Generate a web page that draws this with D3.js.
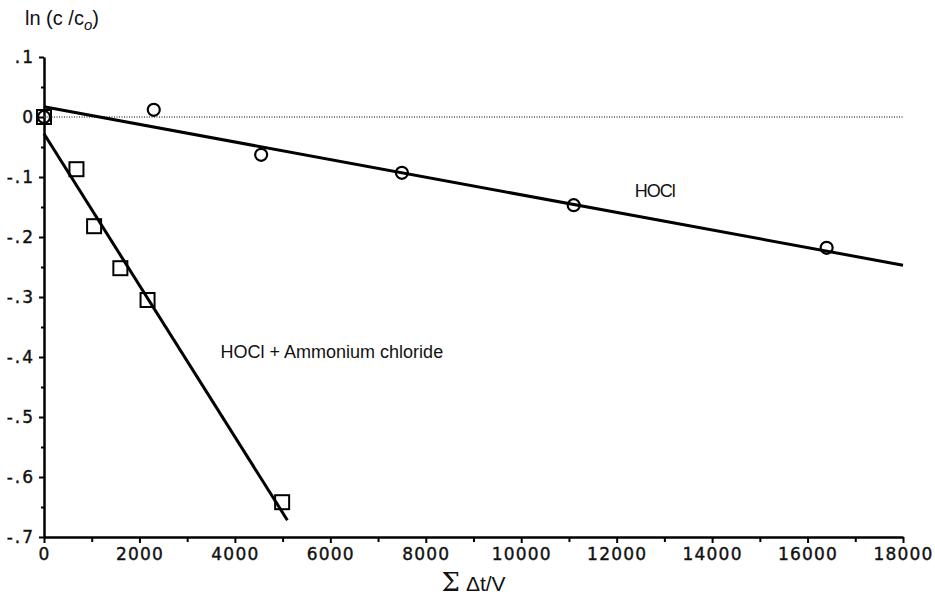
<!DOCTYPE html>
<html>
<head>
<meta charset="utf-8">
<script src="https://cdn.jsdelivr.net/npm/d3@7"></script>
<style>
  body { margin: 0; background: #fff; }
  text { font-family: "Liberation Sans", Arial, sans-serif; fill: #111; }
</style>
</head>
<body>
<div id="chart"></div>
<script>

// HOCl alone (circles)
var hoclX = [0, 2300, 4550, 7500, 11100, 16400];
var hoclY = [0, 0.012, -0.063, -0.093, -0.147, -0.218];
// HOCl + ammonium chloride (squares)
var ammX = [0, 680, 1050, 1600, 2170, 4990];
var ammY = [0, -0.087, -0.182, -0.252, -0.305, -0.642];
// fitted lines, end points
var hoclFit = [[0, 0.017], [18000, -0.247]];
var ammFit = [[0, -0.028], [5100, -0.672]];

var xTicks = [0, 2000, 4000, 6000, 8000, 10000, 12000, 14000, 16000, 18000];
var xMinor = [1000, 3000, 5000, 7000, 9000, 11000, 13000, 15000, 17000];
var yTicks = [0.1, 0, -0.1, -0.2, -0.3, -0.4, -0.5, -0.6, -0.7];
var yMinor = [0.05, -0.05, -0.15, -0.25, -0.35, -0.45, -0.55, -0.65];

var margin = {top: 57, right: 32, bottom: 59, left: 44},
    width = 935 - margin.left - margin.right,
    height = 596 - margin.top - margin.bottom;

var svg = d3.select("#chart")
  .append("svg")
    .attr("width", 935)
    .attr("height", 596)
  .append("g")
    .attr("transform", "translate(" + margin.left + "," + margin.top + ")");

var x = d3.scaleLinear()
  .domain([0, 18000])
  .range([0, width]);

var y = d3.scaleLinear()
  .domain([-0.7, 0.1])
  .range([height, 0]);

function yFmt(v) {
  if (Math.abs(v) < 1e-9) return "0";
  return (v < 0 ? "-" : "") + "." + Math.round(Math.abs(v) * 10);
}

// minor ticks first
svg.append("g")
  .attr("transform", "translate(0," + height + ")")
  .call(d3.axisBottom(x).tickValues(xMinor).tickSize(5).tickFormat(""))
  .call(function (g) { g.select(".domain").remove(); })
  .selectAll("line").attr("stroke-width", 2);

svg.append("g")
  .call(d3.axisLeft(y).tickValues(yMinor).tickSize(3).tickFormat(""))
  .call(function (g) { g.select(".domain").remove(); })
  .selectAll("line").attr("stroke-width", 2);

// X axis
var xAxis = svg.append("g")
  .attr("transform", "translate(0," + height + ")")
  .call(d3.axisBottom(x).tickValues(xTicks).tickSize(6).tickSizeOuter(0).tickPadding(5)
    .tickFormat(d3.format("d")));
xAxis.select(".domain").attr("stroke-width", 2.5);
xAxis.selectAll("line").attr("stroke-width", 2);
xAxis.selectAll("text")
  .style("font-family", "'DejaVu Sans', sans-serif")
  .style("font-size", "17px")
  .style("letter-spacing", "1.2px")
  .style("stroke", "#111")
  .style("stroke-width", "0.4px");

// Y axis
var yAxis = svg.append("g")
  .call(d3.axisLeft(y).tickValues(yTicks).tickSize(5).tickSizeOuter(0).tickPadding(4).tickFormat(yFmt));
yAxis.select(".domain").attr("stroke-width", 2.5);
yAxis.selectAll("line").attr("stroke-width", 2);
yAxis.selectAll("text")
  .style("font-family", "'DejaVu Sans', sans-serif")
  .style("font-size", "17px")
  .style("letter-spacing", "2px")
  .style("stroke", "#111")
  .style("stroke-width", "0.4px");

// dotted zero line
svg.append("line")
  .attr("x1", x(0)).attr("x2", x(18000))
  .attr("y1", y(0)).attr("y2", y(0))
  .attr("stroke", "#555")
  .attr("stroke-width", 1.5)
  .attr("stroke-dasharray", "1,1.5");

var line = d3.line()
  .x(function (d) { return x(d[0]); })
  .y(function (d) { return y(d[1]); });

svg.append("path")
  .datum(hoclFit)
  .attr("d", line)
  .attr("fill", "none")
  .attr("stroke", "#000")
  .attr("stroke-width", 3);

svg.append("path")
  .datum(ammFit)
  .attr("d", line)
  .attr("fill", "none")
  .attr("stroke", "#000")
  .attr("stroke-width", 3);

// circles
svg.append("g")
  .selectAll("circle")
  .data(hoclX)
  .enter()
  .append("circle")
    .attr("cx", function (d) { return x(d); })
    .attr("cy", function (d, i) { return y(hoclY[i]); })
    .attr("r", 6)
    .attr("fill", "none")
    .attr("stroke", "#000")
    .attr("stroke-width", 2.2);

// squares
var s = 14;
svg.append("g")
  .selectAll("rect")
  .data(ammX)
  .enter()
  .append("rect")
    .attr("x", function (d) { return x(d) - s / 2; })
    .attr("y", function (d, i) { return y(ammY[i]) - s / 2; })
    .attr("width", s)
    .attr("height", s)
    .attr("fill", "none")
    .attr("stroke", "#000")
    .attr("stroke-width", 2);

// series labels
svg.append("text")
  .attr("x", x(12800))
  .attr("y", y(-0.1) + 20)
  .attr("text-anchor", "middle")
  .style("font-size", "18px")
  .style("letter-spacing", "-1px")
  .text("HOCl");

svg.append("text")
  .attr("x", x(3700))
  .attr("y", y(-0.4) + 1)
  .style("font-size", "18px")
  .text("HOCl + Ammonium chloride");

// y title
var yt = svg.append("text")
  .attr("x", -19)
  .attr("y", -32)
  .style("font-size", "20px");
yt.append("tspan").text("ln (c /c");
yt.append("tspan").attr("dy", 5).style("font-size", "15px").style("font-style", "italic").text("o");
yt.append("tspan").attr("dy", -5).text(")");

// x title
var xt = svg.append("text")
  .attr("x", x(8330))
  .attr("y", height + 54)
  .style("font-size", "21px");
xt.append("tspan").style("font-family", "'DejaVu Serif', serif").style("font-size", "26px").text("\u03A3");
xt.append("tspan").attr("dx", 6).text("\u0394t/V");

</script>
</body>
</html>
